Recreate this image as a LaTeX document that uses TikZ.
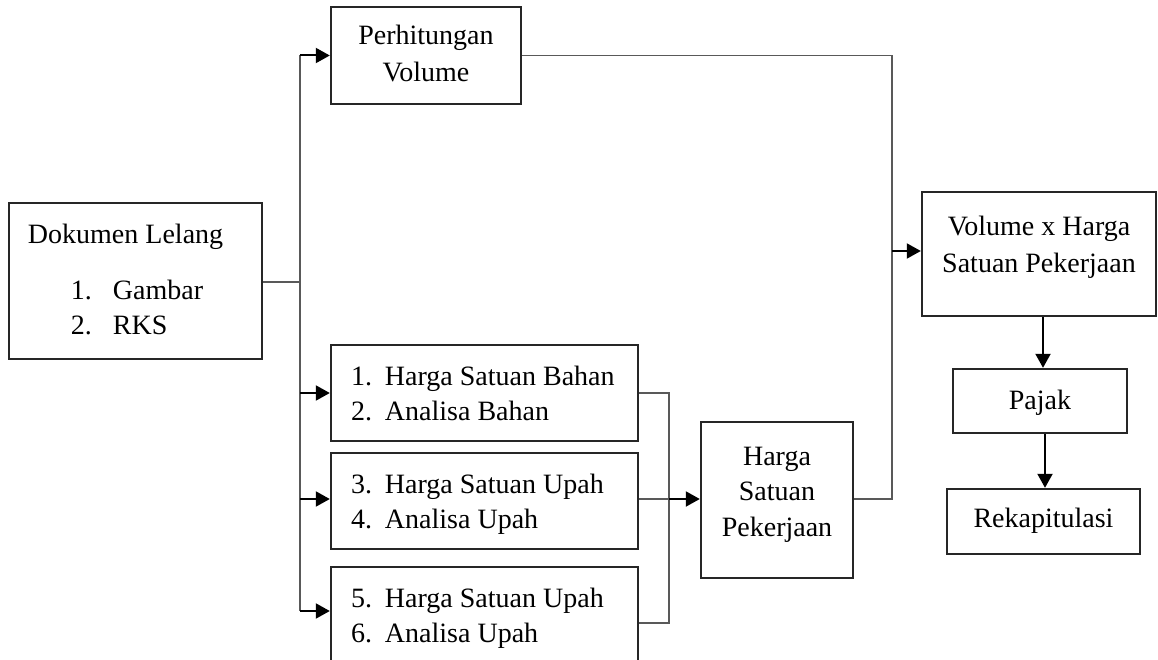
\documentclass[tikz,border=0pt]{standalone}
\usepackage{fontspec}
\setmainfont{Liberation Serif}
\usetikzlibrary{arrows.meta,calc}
\newcommand{\pbox}[5]{\parbox[c][#2][t]{#1}{#3\vspace*{#4}#5}}
\tikzset{
  box/.style={draw=black!85, line width=2.4pt, inner sep=0pt, text=black,
    font=\fontsize{28}{36}\selectfont},
  thin/.style={draw=black!65, line width=1.3pt},
  arr/.style={draw=black, line width=2pt, -{Triangle[length=14pt,width=15pt]}},
}
\begin{document}
\begin{tikzpicture}[x=1pt,y=-1pt]
\useasboundingbox (0,0) rectangle (1158,660);
\clip (0,0) rectangle (1158,660);

\node[box] (dok) at (135.5,281)
  {\pbox{253pt}{156pt}{\raggedright}{14.8pt}{\strut\hspace*{19pt}Dokumen Lelang\\[20pt]\strut\hspace*{62pt}\makebox[42pt][l]{1.}Gambar\\[-1pt]\strut\hspace*{62pt}\makebox[42pt][l]{2.}RKS}};
\node[box] (perh) at (426,55.5)
  {\pbox{190pt}{97pt}{\centering}{12.8pt}{\strut Perhitungan\\[1pt]\strut Volume}};
\node[box] (b1) at (484.5,393)
  {\pbox{307pt}{96pt}{\raggedright}{14.8pt}{\strut\hspace*{20pt}\makebox[34pt][l]{1.}Harga Satuan Bahan\\[-1pt]\strut\hspace*{20pt}\makebox[34pt][l]{2.}Analisa Bahan}};
\node[box] (b2) at (484.5,501)
  {\pbox{307pt}{96pt}{\raggedright}{14.8pt}{\strut\hspace*{20pt}\makebox[34pt][l]{3.}Harga Satuan Upah\\[-1pt]\strut\hspace*{20pt}\makebox[34pt][l]{4.}Analisa Upah}};
\node[box] (b3) at (484.5,615)
  {\pbox{307pt}{96pt}{\raggedright}{14.8pt}{\strut\hspace*{20pt}\makebox[34pt][l]{5.}Harga Satuan Upah\\[-1pt]\strut\hspace*{20pt}\makebox[34pt][l]{6.}Analisa Upah}};
\node[box] (hsp) at (777,500)
  {\pbox{152pt}{156pt}{\centering}{17.8pt}{\strut Harga\\[-0.5pt]\strut Satuan\\[-0.5pt]\strut Pekerjaan}};
\node[box] (vol) at (1039,254)
  {\pbox{234pt}{124pt}{\centering}{18.8pt}{\strut Volume x Harga\\[1pt]\strut Satuan Pekerjaan}};
\node[box] (pajak) at (1040,401)
  {\pbox{174pt}{64pt}{\centering}{14.8pt}{\strut Pajak}};
\node[box] (rekap) at (1043.5,521.5)
  {\pbox{193pt}{65pt}{\centering}{12.8pt}{\strut Rekapitulasi}};

% left bus
\coordinate (jd) at (300,282);
\coordinate (j0) at (300,55.5);
\coordinate (j1) at (300,393);
\coordinate (j2) at (300,499);
\coordinate (j3) at (300,611);
\draw[thin] (dok.east |- jd) -- (jd);
\draw[thin] (j0) -- (j3);
\draw[arr] (j0) -- (j0 -| perh.west);
\draw[arr] (j1) -- (j1 -| b1.west);
\draw[arr] (j2) -- (j2 -| b2.west);
\draw[arr] (j3) -- (j3 -| b3.west);

% merge into Harga Satuan Pekerjaan
\coordinate (m1) at (669,393);
\coordinate (m2) at (669,499);
\coordinate (m3) at (669,623);
\draw[thin] (m1 -| b1.east) -- (m1) -- (m3) -- (m3 -| b3.east);
\draw[thin] (m2 -| b2.east) -- (m2);
\draw[arr] (m2) -- (m2 -| hsp.west);

% right bus
\coordinate (r0) at (892,55.5);
\coordinate (r1) at (892,251);
\coordinate (r2) at (892,499);
\draw[thin] (perh.east |- r0) -- (r0) -- (r2) -- (r2 -| hsp.east);
\draw[arr] (r1) -- (r1 -| vol.west);

\draw[arr] (vol.south -| 1043,0) -- (pajak.north -| 1043,0);
\draw[arr] (pajak.south -| 1045,0) -- (rekap.north -| 1045,0);
\end{tikzpicture}
\end{document}
